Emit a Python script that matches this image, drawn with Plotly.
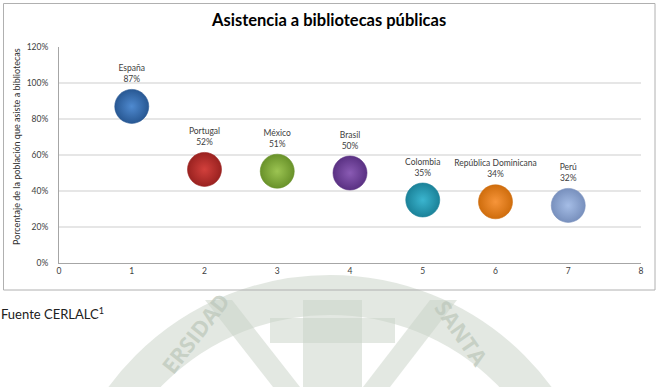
import plotly.graph_objects as go

# ---- data ----
countries = ["España", "Portugal", "México", "Brasil", "Colombia", "República Dominicana", "Perú"]
x_pos = [1, 2, 3, 4, 5, 6, 7]
values = [87, 52, 51, 50, 35, 34, 32]
y_ticks = [0, 20, 40, 60, 80, 100, 120]
x_ticks = [0, 1, 2, 3, 4, 5, 6, 7, 8]
light_colors = ["#4f8ad0", "#d2403c", "#9cc452", "#8a5bb4", "#3bb5cf", "#f7953a", "#a5bde6"]
dark_colors = ["#285893", "#9a2220", "#69922a", "#5a3183", "#1b8299", "#cf6d0d", "#7890bd"]

W, H = 659, 387
L, R, T, B = 59, 641, 47, 263


def px(xp):
    return (xp - L) / (R - L)


def py(yp):
    return (B - yp) / (B - T)


fig = go.Figure()

for i in range(len(countries)):
    fig.add_trace(go.Scatter(
        x=[x_pos[i]], y=[values[i]],
        mode="markers+text",
        text=[f"{countries[i]}<br>{values[i]}%"],
        textposition="top center",
        textfont=dict(family="Lato, sans-serif", size=8.5, color="#404040"),
        marker=dict(size=34, color=dark_colors[i],
                    gradient=dict(type="radial", color=light_colors[i]),
                    line=dict(width=0.6, color=dark_colors[i])),
        showlegend=False, hoverinfo="skip", cliponaxis=False,
    ))

shapes = []
wm = "rgba(200,210,198,0.5)"
# watermark seal (faint)
shapes.append(dict(type="circle", xref="paper", yref="paper",
                   x0=px(75), x1=px(585), y0=py(295), y1=py(805),
                   line=dict(color=wm, width=40), fillcolor="rgba(0,0,0,0)", layer="below"))
shapes.append(dict(type="rect", xref="paper", yref="paper",
                   x0=px(303), x1=px(362), y0=py(300), y1=py(387),
                   line=dict(width=0), fillcolor=wm, layer="below"))
shapes.append(dict(type="rect", xref="paper", yref="paper",
                   x0=px(270), x1=px(395), y0=py(318), y1=py(343),
                   line=dict(width=0), fillcolor=wm, layer="below"))
shapes.append(dict(type="path", xref="paper", yref="paper",
                   path=f"M {px(205)},{py(300)} L {px(232)},{py(300)} L {px(300)},{py(387)} L {px(273)},{py(387)} Z",
                   line=dict(width=0), fillcolor=wm, layer="below"))
shapes.append(dict(type="path", xref="paper", yref="paper",
                   path=f"M {px(430)},{py(300)} L {px(457)},{py(300)} L {px(390)},{py(387)} L {px(363)},{py(387)} Z",
                   line=dict(width=0), fillcolor=wm, layer="below"))
# chart outer border
shapes.append(dict(type="rect", xref="paper", yref="paper",
                   x0=px(3.5), x1=px(655), y0=py(3.5), y1=py(290),
                   line=dict(color="#b0b0b0", width=1), fillcolor="rgba(0,0,0,0)", layer="below"))

annotations = [
    dict(text="<b>Asistencia a bibliotecas públicas</b>", xref="paper", yref="paper",
         x=px(328), y=py(20), xanchor="center", yanchor="middle", showarrow=False,
         font=dict(family="Lato, sans-serif", size=16.5, color="#000000")),
    dict(text="Porcentaje de la población que asiste a bibliotecas", xref="paper", yref="paper",
         x=px(16), y=py(147), xanchor="center", yanchor="middle", showarrow=False, textangle=-90,
         font=dict(family="Lato, sans-serif", size=9, color="#303030")),
    dict(text="Fuente CERLALC<sup>1</sup>", xref="paper", yref="paper",
         x=px(-1), y=py(313), xanchor="left", yanchor="middle", showarrow=False,
         font=dict(family="Lato, sans-serif", size=13, color="#202020")),
    dict(text="<b>ERSIDAD</b>", xref="paper", yref="paper",
         x=px(195), y=py(333), xanchor="center", yanchor="middle", showarrow=False, textangle=-52,
         font=dict(family="Open Sans, sans-serif", size=22, color="rgba(190,200,188,0.75)")),
    dict(text="<b>SANTA</b>", xref="paper", yref="paper",
         x=px(462), y=py(333), xanchor="center", yanchor="middle", showarrow=False, textangle=55,
         font=dict(family="Open Sans, sans-serif", size=22, color="rgba(190,200,188,0.75)")),
]

fig.update_layout(
    width=W, height=H,
    margin=dict(l=L, r=W - R, t=T, b=H - B),
    paper_bgcolor="white", plot_bgcolor="rgba(0,0,0,0)",
    shapes=shapes, annotations=annotations,
    xaxis=dict(range=[0, 8], tickvals=x_ticks, ticktext=[str(v) for v in x_ticks],
               showgrid=False, zeroline=False, showline=True, linecolor="#a6a6a6", linewidth=1,
               ticks="", tickfont=dict(family="Lato, sans-serif", size=8.5, color="#404040")),
    yaxis=dict(range=[0, 120], tickvals=y_ticks, ticktext=[f"{v}%" for v in y_ticks],
               showgrid=True, gridcolor="#e6e6e6", gridwidth=1.5, zeroline=False,
               showline=True, linecolor="#a6a6a6", linewidth=1,
               ticks="", ticklabelstandoff=8,
               tickfont=dict(family="Lato, sans-serif", size=8.5, color="#404040")),
)

fig.write_html("out.html")
